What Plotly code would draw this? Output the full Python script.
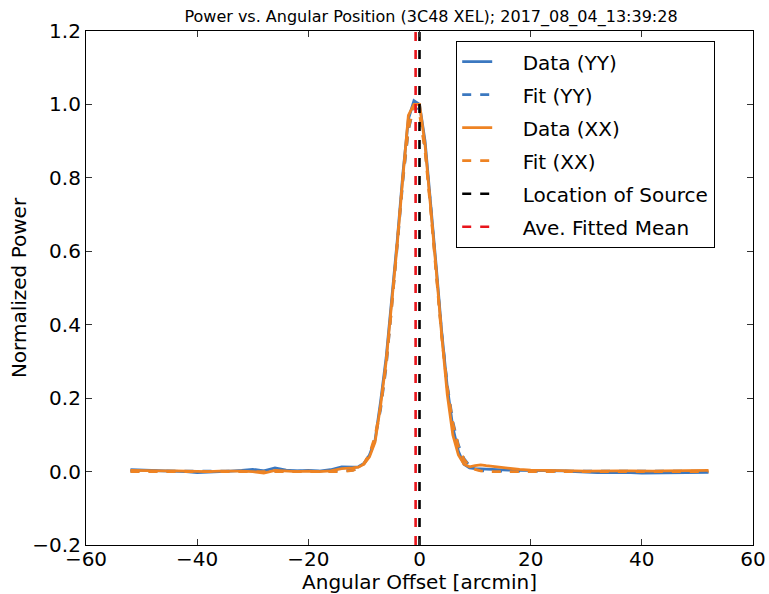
import plotly.graph_objects as go

# Angular offset samples [arcmin]
offsets = [-52, -50, -48, -46, -44, -42, -40, -38, -36, -34, -32, -30, -28, -26, -24, -22, -20, -18, -16, -14, -12,
           -11, -10, -9, -8, -7, -6, -5, -4, -3, -2, -1, 0, 1, 2, 3, 4, 5, 6, 7, 8, 9, 10, 11,
           12, 14, 16, 18, 20, 22, 24, 26, 28, 30, 32, 34, 36, 38, 40, 42, 44, 46, 48, 50, 52]

data_yy = [0.005, 0.004, 0.004, 0.003, 0.002, 0.000, -0.003, -0.002, 0.000, 0.001, 0.003, 0.006, 0.002, 0.010, 0.004,
           0.002, 0.003, 0.001, 0.005, 0.013, 0.012,
           0.013, 0.022, 0.045, 0.085, 0.19, 0.31, 0.46, 0.63, 0.81, 0.96, 1.01, 1.0, 0.90, 0.74, 0.56, 0.38, 0.23,
           0.12, 0.055, 0.02, 0.010, 0.008, 0.007,
           0.006, 0.005, 0.004, 0.003, 0.003, 0.002, 0.001, 0.002, 0.000, -0.002, -0.003, -0.003, -0.002, -0.003,
           -0.004, -0.004, -0.002, -0.004, -0.003, -0.002, -0.002]

fit_yy = [0.001, 0.001, 0.001, 0.001, 0.001, 0.001, 0.001, 0.001, 0.001, 0.001, 0.001, 0.001, 0.001, 0.001, 0.001,
          0.001, 0.001, 0.001, 0.001, 0.001, 0.004,
          0.009, 0.021, 0.045, 0.09, 0.17, 0.285, 0.44, 0.615, 0.79, 0.93, 0.995, 0.98, 0.88, 0.725, 0.545, 0.375,
          0.235, 0.136, 0.072, 0.035, 0.016, 0.007, 0.003,
          0.001, 0.001, 0.001, 0.001, 0.001, 0.001, 0.001, 0.001, 0.001, 0.001, 0.001, 0.001, 0.001, 0.001,
          0.001, 0.001, 0.001, 0.001, 0.001, 0.001, 0.001]

data_xx = [0.003, 0.002, 0.003, 0.002, 0.002, 0.001, 0.001, 0.000, 0.001, 0.002, 0.001, 0.000, -0.004, 0.003, 0.001,
           0.000, 0.001, 0.000, 0.002, 0.008, 0.010,
           0.012, 0.02, 0.04, 0.08, 0.18, 0.30, 0.45, 0.62, 0.80, 0.97, 1.0, 1.0, 0.89, 0.73, 0.55, 0.37, 0.21,
           0.10, 0.045, 0.02, 0.013, 0.016, 0.018,
           0.016, 0.012, 0.008, 0.006, 0.004, 0.003, 0.003, 0.002, 0.002, 0.001, 0.002, 0.003, 0.002, 0.002,
           0.001, 0.001, 0.002, 0.002, 0.003, 0.002, 0.003]

fit_xx = [0.0, 0.0, 0.0, 0.0, 0.0, 0.0, 0.0, 0.0, 0.0, 0.0, 0.0, 0.0, 0.0, 0.0, 0.0,
          0.0, 0.0, 0.0, 0.0, 0.0, 0.003,
          0.009, 0.022, 0.048, 0.096, 0.176, 0.293, 0.447, 0.625, 0.798, 0.933, 0.997, 0.975, 0.873, 0.714, 0.535,
          0.366, 0.229, 0.131, 0.069, 0.033, 0.015, 0.006, 0.002,
          0.0, 0.0, 0.0, 0.0, 0.0, 0.0, 0.0, 0.0, 0.0, 0.0, 0.0, 0.0, 0.0, 0.0,
          0.0, 0.0, 0.0, 0.0, 0.0, 0.0, 0.0]

source_location = 0.0
fitted_mean = -0.7
y_span = [-0.2, 1.2]

x_ticks = [-60, -40, -20, 0, 20, 40, 60]
y_ticks = [-0.2, 0.0, 0.2, 0.4, 0.6, 0.8, 1.0, 1.2]

BLUE = "#3b78c0"
ORANGE = "#ee8323"
DASH = "9px,9px"
PAD = "\u00a0\u00a0\u00a0\u00a0"

fig = go.Figure()
fig.add_trace(go.Scatter(x=offsets, y=data_yy, mode="lines", name=PAD + "Data (YY)", legendgroup="g1",
                         line=dict(color=BLUE, width=2.8)))
fig.add_trace(go.Scatter(x=offsets, y=fit_yy, mode="lines", name=PAD + "Fit (YY)", legendgroup="g2",
                         line=dict(color=BLUE, width=2.8, dash=DASH)))
fig.add_trace(go.Scatter(x=offsets, y=data_xx, mode="lines", name=PAD + "Data (XX)", legendgroup="g3",
                         line=dict(color=ORANGE, width=2.8)))
fig.add_trace(go.Scatter(x=offsets, y=fit_xx, mode="lines", name=PAD + "Fit (XX)", legendgroup="g4",
                         line=dict(color=ORANGE, width=2.8, dash=DASH)))
fig.add_trace(go.Scatter(x=[source_location, source_location], y=y_span, mode="lines", legendgroup="g5",
                         name=PAD + "Location of Source", line=dict(color="black", width=2.6, dash=DASH)))
fig.add_trace(go.Scatter(x=[fitted_mean, fitted_mean], y=y_span, mode="lines", legendgroup="g6",
                         name=PAD + "Ave. Fitted Mean", line=dict(color="#e8141b", width=2.6, dash=DASH)))

axis_common = dict(showgrid=False, zeroline=False, showline=True, linecolor="black", linewidth=1.2,
                   mirror="allticks", ticks="inside", ticklen=6, tickcolor="#333", tickwidth=1,
                   tickfont=dict(size=20, color="black"), automargin=False)

L, R, T, B = 86, 16, 31, 49
W, H = 769, 594
pw, ph = W - L - R, H - T - B

fig.update_layout(
    width=W, height=H,
    margin=dict(l=L, r=R, t=T, b=B),
    paper_bgcolor="white", plot_bgcolor="white",
    font=dict(family="DejaVu Sans", color="black"),
    title=dict(text="Power vs. Angular Position (3C48 XEL); 2017_08_04_13:39:28",
               font=dict(size=16, color="black"), xref="container", x=431 / W, xanchor="center",
               yref="container", y=1 - 16 / H, yanchor="middle"),
    xaxis=dict(range=[-60, 60], tickvals=x_ticks, ticklabelstandoff=-4,
               title=dict(text="Angular Offset [arcmin]", font=dict(size=20), standoff=4),
               **axis_common),
    yaxis=dict(range=[-0.2, 1.2], tickvals=y_ticks, tickformat=".1f", ticklabelstandoff=0,
               title=dict(text="Normalized Power", font=dict(size=20), standoff=0),
               **axis_common),
    legend=dict(x=(456 - L) / pw, xref="paper", y=1 - (41 - T) / ph, yref="paper",
                xanchor="left", yanchor="top", bordercolor="black", borderwidth=1.2,
                bgcolor="white", font=dict(size=20, color="black"), tracegroupgap=4),
    showlegend=True,
)

fig.write_html("out.html", config={"displayModeBar": False},
               post_script="document.body.style.margin='0px';")
